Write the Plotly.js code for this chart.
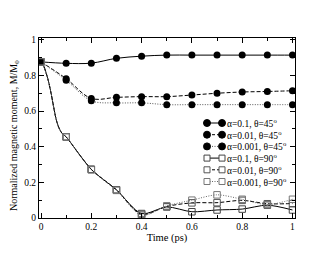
<!DOCTYPE html>
<html>
<head>
<meta charset="utf-8">
<script src="https://cdn.plot.ly/plotly-3.0.1.min.js"></script>
<style>html,body{margin:0;padding:0;background:#fff;}#chart{width:332px;height:257px;}</style>
</head>
<body>
<div id="chart"></div>
<script>
// ---- data ----
var tMarks = [0, 0.1, 0.2, 0.3, 0.4, 0.5, 0.6, 0.7, 0.8, 0.9, 1.0];
var m45_a01   = [0.876, 0.868, 0.869, 0.896, 0.908, 0.914, 0.914, 0.914, 0.914, 0.914, 0.914];
var m45_a001  = [0.876, 0.782, 0.671, 0.677, 0.681, 0.681, 0.690, 0.700, 0.707, 0.710, 0.714];
var m45_a0001 = [0.876, 0.773, 0.658, 0.646, 0.646, 0.636, 0.636, 0.636, 0.636, 0.636, 0.636];
var m90_a01   = [0.876, 0.455, 0.273, 0.158, 0.025, 0.062, 0.035, 0.045, 0.050, 0.072, 0.045];
var m90_a001  = [0.876, 0.455, 0.273, 0.158, 0.020, 0.065, 0.085, 0.086, 0.099, 0.080, 0.081];
var m90_a0001 = [0.876, 0.455, 0.270, 0.155, 0.015, 0.068, 0.100, 0.130, 0.105, 0.075, 0.105];
// early fast drop of the 90 degree curves (read between 0 and 0.1 ps)
var tEarly = [0, 0.01, 0.02, 0.03, 0.04, 0.05, 0.06, 0.07, 0.08, 0.09];
var m90Early = [0.876, 0.855, 0.815, 0.765, 0.700, 0.625, 0.555, 0.510, 0.482, 0.467];

var labels = ['α=0.1, θ=45<sup>o</sup>', 'α=0.01, θ=45<sup>o</sup>', 'α=0.001, θ=45<sup>o</sup>',
              'α=0.1, θ=90<sup>o</sup>', 'α=0.01, θ=90<sup>o</sup>', 'α=0.001, θ=90<sup>o</sup>'];
var xTicks = [0, 0.2, 0.4, 0.6, 0.8, 1];
var xTickText = ['0', '0.2', '0.4', '0.6', '0.8', '1'];
var yTicks = [0, 0.2, 0.4, 0.6, 0.8, 1];
var yTickText = ['0', '0.2', '0.4', '0.6', '0.8', '1'];
var xTitle = 'Time (ps)';
var yTitle = 'Normalized magnetic moment, M/M<sub>0</sub>';

// ---- styles ----
var serif = 'Liberation Serif, Times New Roman, serif';
var styles = [
  {dash: 'solid', color: '#000', mcolor: '#000', symbol: 'circle', msize: 7},
  {dash: '4px,2px', color: '#000', mcolor: '#000', symbol: 'circle', msize: 7},
  {dash: '1px,1.5px', color: '#555', mcolor: '#000', symbol: 'circle', msize: 7},
  {dash: 'solid', color: '#000', mcolor: '#444', symbol: 'square-open', msize: 6.5},
  {dash: '4px,2px', color: '#000', mcolor: '#555', symbol: 'square-open', msize: 6.5},
  {dash: '1px,1.5px', color: '#666', mcolor: '#777', symbol: 'square-open', msize: 6.5}
];
var series45 = [m45_a01, m45_a001, m45_a0001];
var series90 = [m90_a01, m90_a001, m90_a0001];

var traces = [];
series90.forEach(function (s, i) {
  var st = styles[i + 3];
  traces.push({
    x: tEarly.concat(tMarks.slice(1)), y: m90Early.concat(s.slice(1)),
    mode: 'lines', type: 'scatter', showlegend: false, hoverinfo: 'skip',
    line: {color: st.color, width: 1, dash: st.dash, shape: 'spline', smoothing: 0.8}
  });
});
series45.forEach(function (s, i) {
  var st = styles[i];
  traces.push({
    x: tMarks, y: s, mode: 'lines+markers', type: 'scatter', showlegend: false,
    line: {color: st.color, width: 1, dash: st.dash, shape: 'spline', smoothing: 1},
    marker: {color: st.mcolor, symbol: st.symbol, size: st.msize}
  });
});
series90.forEach(function (s, i) {
  var st = styles[i + 3];
  traces.push({
    x: tMarks, y: s, mode: 'markers', type: 'scatter', showlegend: false,
    marker: {color: st.mcolor, symbol: st.symbol, size: st.msize, line: {width: 1, color: st.mcolor}}
  });
});

// ---- compact legend (paper coordinates) ----
var shapes = [], annotations = [];
var plotL = 39, plotW = 256, plotT = 38, plotH = 180;
function px2x(p) { return (p - plotL) / plotW; }
function py2y(p) { return (plotT + plotH - p) / plotH; }
var rowY0 = 123, rowDy = 11.7, symX0 = 207, symX1 = 222, textX = 225;
labels.forEach(function (lab, i) {
  var st = styles[i];
  var yy = py2y(rowY0 + i * rowDy);
  shapes.push({type: 'line', xref: 'paper', yref: 'paper', x0: px2x(symX0), x1: px2x(symX1), y0: yy, y1: yy,
    line: {color: st.color, width: 1, dash: st.dash === 'solid' ? 'solid' : (i % 3 === 1 ? '3px,2px' : '1px,1.5px')}});
  [symX0, symX1].forEach(function (sx) {
    var r = st.symbol === 'circle' ? 3.5 : 3;
    shapes.push({type: st.symbol === 'circle' ? 'circle' : 'rect', xref: 'paper', yref: 'paper',
      xsizemode: 'pixel', ysizemode: 'pixel', xanchor: px2x(sx), yanchor: yy,
      x0: -r, x1: r, y0: -r, y1: r,
      fillcolor: st.symbol === 'circle' ? '#000' : '#fff', line: {color: st.mcolor, width: 1}});
  });
  annotations.push({xref: 'paper', yref: 'paper', x: px2x(textX), y: yy, xanchor: 'left', yanchor: 'middle',
    text: lab, showarrow: false, font: {family: serif, size: 9.5, color: '#000'}});
});
// y-axis title placed as in the reference
annotations.push({xref: 'paper', yref: 'paper', x: px2x(14), y: py2y(136), xanchor: 'center', yanchor: 'middle',
  textangle: -90, text: yTitle, showarrow: false, font: {family: serif, size: 10, color: '#000'}});

var axisCommon = {
  showline: true, linecolor: '#000', linewidth: 1, mirror: 'allticks',
  ticks: 'inside', ticklen: 5, tickwidth: 1, tickcolor: '#000',
  showgrid: false, zeroline: false, tickmode: 'array',
  tickfont: {family: serif, size: 9.5, color: '#000'},
  minor: {ticks: 'inside', ticklen: 3, tickwidth: 1, tickcolor: '#000', dtick: 0.1, tick0: 0, showgrid: false}
};
var layout = {
  width: 332, height: 257,
  margin: {l: plotL, r: 332 - plotL - plotW, t: plotT, b: 257 - plotT - plotH, pad: 0},
  paper_bgcolor: '#fff', plot_bgcolor: '#fff',
  showlegend: false,
  xaxis: Object.assign({}, axisCommon, {range: [-0.008, 1.01], tickvals: xTicks, ticktext: xTickText,
    title: {text: xTitle, font: {family: serif, size: 10.5, color: '#000'}, standoff: 2}}),
  yaxis: Object.assign({}, axisCommon, {range: [0, 1.01], tickvals: yTicks, ticktext: yTickText}),
  shapes: shapes, annotations: annotations
};
Plotly.newPlot('chart', traces, layout, {staticPlot: true, displayModeBar: false});
</script>
</body>
</html>
